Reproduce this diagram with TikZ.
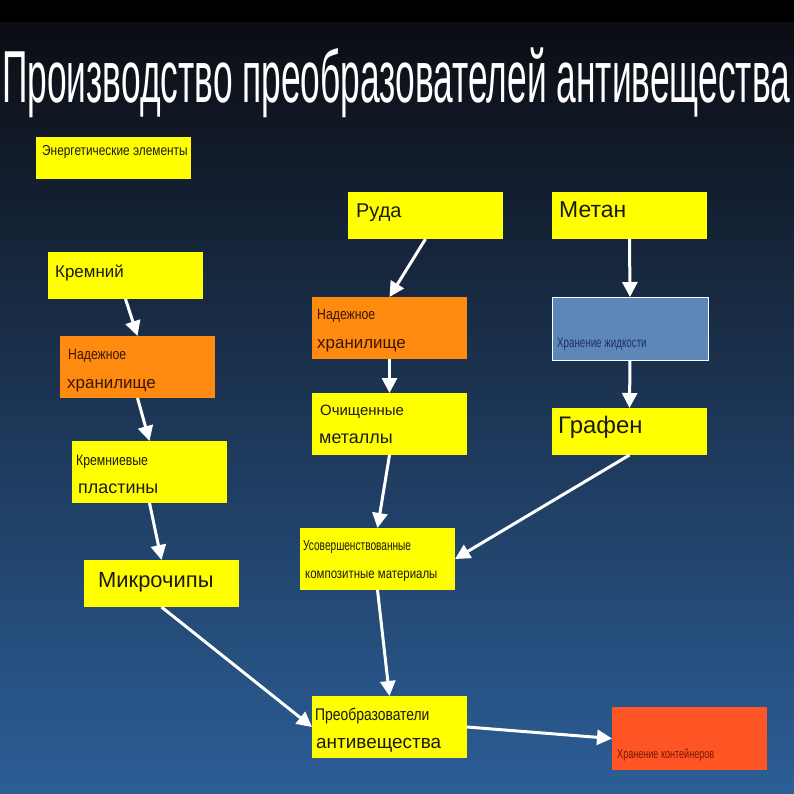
\documentclass[tikz,border=0pt]{standalone}
\usepackage{graphicx}
\usepackage{fontspec}
\setmainfont{Liberation Sans}
\newfontfamily\narrowfont[FakeStretch=0.82]{Liberation Sans}
\newfontfamily\condfont[FakeStretch=0.70]{Liberation Sans}
\usetikzlibrary{arrows.meta}

\definecolor{bgtop}{HTML}{0C0D13}
\definecolor{bgbottom}{HTML}{2C5E97}
\definecolor{boxyellow}{HTML}{FFFF00}
\definecolor{boxorange}{HTML}{FF8A10}
\definecolor{boxblue}{HTML}{5D87B6}
\definecolor{boxred}{HTML}{FF5524}
\definecolor{inkdark}{HTML}{1A1A1A}
\definecolor{inkbrown}{HTML}{3B1600}
\definecolor{inknavy}{HTML}{1B2F6A}
\definecolor{inkred}{HTML}{7A1500}

\begin{document}
\begin{tikzpicture}[x=1bp,y=-1bp,
  box/.style={inner sep=0pt, outer sep=0pt, anchor=north west,
    minimum width=155bp, minimum height=62bp},
  yellowbox/.style={box, fill=boxyellow},
  orangebox/.style={box, fill=boxorange},
  txt/.style={anchor=base west, inner sep=0pt, text=inkdark,
    font=\fontsize{20}{20}\selectfont},
  mid/.style={txt, font=\fontsize{18}{18}\selectfont},
  small/.style={txt, font=\fontsize{15}{15}\narrowfont},
  tiny/.style={txt, font=\fontsize{14}{14}\condfont},
  flow/.style={white, line width=3bp, -{Triangle[length=15bp,width=15bp]}}]
  \useasboundingbox (0,0) rectangle (794,794);

  % background
  \fill[black] (0,0) rectangle (794,794);
  \shade[top color=bgtop, bottom color=bgbottom] (0,23) rectangle (794,794);

  % title
  \node[anchor=north west, inner sep=0pt, text=white] (title) at (2,48)
    {\resizebox*{788bp}{70bp}{\fontsize{72}{72}\selectfont Производство преобразователей антивещества}};

  % boxes
  \node[yellowbox, minimum height=42bp] (energy) at (36,137) {};
  \node[small, font=\fontsize{14.5}{14.5}\narrowfont] (energy-t) at (42,155) {Энергетические элементы};

  \node[yellowbox, minimum height=47bp] (ruda) at (348,192) {};
  \node[txt] (ruda-t) at (356,217) {Руда};

  \node[yellowbox, minimum height=47bp] (metan) at (552,192) {};
  \node[txt, font=\fontsize{23}{23}\selectfont] (metan-t) at (559,217) {Метан};

  \node[yellowbox, minimum height=47bp] (silicon) at (48,252) {};
  \node[txt, font=\fontsize{17}{17}\selectfont] (silicon-t) at (55,277) {Кремний};

  \node[orangebox] (storeA) at (60,336) {};
  \node[small, text=inkbrown] (storeA-t1) at (68,359) {Надежное};
  \node[txt, font=\fontsize{17}{17}\selectfont, text=inkbrown] (storeA-t2) at (67,388) {хранилище};

  \node[orangebox] (storeB) at (312,297) {};
  \node[small, text=inkbrown] (storeB-t1) at (317,319) {Надежное};
  \node[txt, font=\fontsize{17}{17}\selectfont, text=inkbrown] (storeB-t2) at (317,348) {хранилище};

  \node[box, fill=boxblue, draw=white, line width=0.8bp,
    minimum width=156bp, minimum height=63bp] (liquid) at (552,297) {};
  \node[tiny, text=inknavy] (liquid-t) at (557,347) {Хранение жидкости};

  \node[yellowbox] (metals) at (312,393) {};
  \node[txt, font=\fontsize{15}{15}\selectfont] (metals-t1) at (320,415) {Очищенные};
  \node[mid] (metals-t2) at (319,443) {металлы};

  \node[yellowbox, minimum height=47bp] (graphene) at (552,408) {};
  \node[txt, font=\fontsize{24}{24}\selectfont] (graphene-t) at (558,433) {Графен};

  \node[yellowbox] (wafers) at (72,441) {};
  \node[small] (wafers-t1) at (76,465) {Кремниевые};
  \node[mid] (wafers-t2) at (78,493) {пластины};

  \node[yellowbox, minimum height=47bp] (chips) at (84,560) {};
  \node[txt, font=\fontsize{22}{22}\selectfont] (chips-t) at (98,587) {Микрочипы};

  \node[yellowbox] (composite) at (300,528) {};
  \node[tiny, font=\fontsize{14.5}{14.5}\condfont] (composite-t1) at (303,550) {Усовершенствованные};
  \node[small, font=\fontsize{14}{14}\narrowfont] (composite-t2) at (305,578) {композитные материалы};

  \node[yellowbox] (converter) at (312,696) {};
  \node[small, font=\fontsize{17}{17}\narrowfont] (converter-t1) at (315,720) {Преобразователи};
  \node[txt, font=\fontsize{19}{19}\selectfont] (converter-t2) at (316,748) {антивещества};

  \node[box, fill=boxred, minimum height=63bp] (containers) at (612,707) {};
  \node[tiny, font=\fontsize{13}{13}\condfont, text=inkred] (containers-t) at (617,758) {Хранение контейнеров};

  % arrows
  \draw[flow] (ruda.south) -- (storeB.north);
  \draw[flow] (metan.south) -- (liquid.north);
  \draw[flow] (liquid.south) -- (graphene.north);
  \draw[flow] (silicon.south) -- (storeA.north);
  \draw[flow] (storeA.south) -- (wafers.north);
  \draw[flow] (wafers.south) -- (chips.north);
  \draw[flow] (storeB.south) -- (metals.north);
  \draw[flow] (metals.south) -- (composite.north);
  \draw[flow] (graphene.south) -- (composite.east);
  \draw[flow] (chips.south) -- (converter.west);
  \draw[flow] (composite.south) -- (converter.north);
  \draw[flow] (converter.east) -- (containers.west);
\end{tikzpicture}
\end{document}
